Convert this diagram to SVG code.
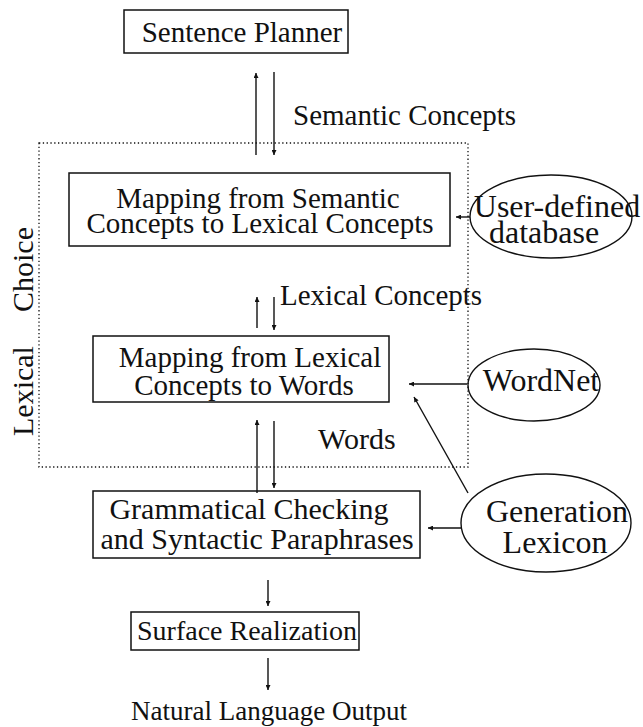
<svg xmlns="http://www.w3.org/2000/svg" width="643" height="727" viewBox="0 0 643 727">
<style>
text{font-family:"Liberation Serif","Times New Roman",serif;font-size:30px;fill:#111}
.box{fill:none;stroke:#111;stroke-width:1.5}
.ell{fill:none;stroke:#111;stroke-width:1.4}
.ln{fill:none;stroke:#111;stroke-width:1.4}
.dot{fill:none;stroke:#111;stroke-width:1.3;stroke-dasharray:1.3 2.5}
.m{text-anchor:middle}
.s29{font-size:29px}
.e{font-size:32px}
</style>
<defs>
<marker id="ah" viewBox="0 0 10 10" refX="10" refY="5" markerWidth="9" markerHeight="5" markerUnits="userSpaceOnUse" orient="auto">
<path d="M0,0 L10,5 L0,10 z" fill="#111"/>
</marker>
</defs>
<rect class="dot" x="39" y="143" width="429" height="324"/>
<text transform="translate(33,312) rotate(-90)">Choice</text>
<text transform="translate(33,436) rotate(-90)">Lexical</text>
<g id="sentence-planner">
<rect class="box" x="124" y="10" width="224" height="43"/>
<text class="m s29" x="242" y="42">Sentence Planner</text>
</g>
<g id="map-semantic">
<rect class="box" x="69" y="173" width="381" height="73"/>
<text class="m s29" x="258" y="208">Mapping from Semantic</text>
<text class="m s29" x="260" y="233">Concepts to Lexical Concepts</text>
</g>
<g id="map-lexical">
<rect class="box" x="93" y="336" width="296" height="66"/>
<text class="m s29" x="250" y="367">Mapping from Lexical</text>
<text class="m s29" x="244" y="395">Concepts to Words</text>
</g>
<g id="grammatical">
<rect class="box" x="93" y="491" width="327" height="67"/>
<text class="m" x="249" y="519">Grammatical Checking</text>
<text class="m" x="257" y="549">and Syntactic Paraphrases</text>
</g>
<g id="surface">
<rect class="box" x="131" y="612" width="228" height="38"/>
<text class="m" x="247" y="640" style="font-size:28px">Surface Realization</text>
</g>
<g id="user-db">
<ellipse class="ell" cx="551" cy="216.5" rx="81" ry="41.5"/>
<text class="m e" x="557" y="217">User-defined</text>
<text class="m e" x="544" y="243">database</text>
</g>
<g id="wordnet">
<ellipse class="ell" cx="534" cy="385" rx="66" ry="36"/>
<text class="m e" x="541" y="391">WordNet</text>
</g>
<g id="gen-lexicon">
<ellipse class="ell" cx="546" cy="523" rx="85" ry="49"/>
<text class="m e" x="557" y="522">Generation</text>
<text class="m e" x="555" y="553">Lexicon</text>
</g>
<text class="s29" x="293" y="125">Semantic Concepts</text>
<text class="s29" x="280" y="305">Lexical Concepts</text>
<text x="318" y="449">Words</text>
<text x="131" y="720" style="font-size:27px">Natural Language Output</text>
<g id="connectors">
<line class="ln" x1="256" y1="155" x2="256" y2="73" marker-end="url(#ah)"/>
<line class="ln" x1="274" y1="72" x2="274" y2="155" marker-end="url(#ah)"/>
<line class="ln" x1="257" y1="328" x2="257" y2="297" marker-end="url(#ah)"/>
<line class="ln" x1="274" y1="297" x2="274" y2="330" marker-end="url(#ah)"/>
<line class="ln" x1="257" y1="493" x2="257" y2="420" marker-end="url(#ah)"/>
<line class="ln" x1="274" y1="421" x2="274" y2="488" marker-end="url(#ah)"/>
<line class="ln" x1="268" y1="580" x2="268" y2="606" marker-end="url(#ah)"/>
<line class="ln" x1="268" y1="658" x2="268" y2="690" marker-end="url(#ah)"/>
<line class="ln" x1="470" y1="217" x2="456" y2="217" marker-end="url(#ah)"/>
<line class="ln" x1="467" y1="384" x2="409" y2="384" marker-end="url(#ah)"/>
<line class="ln" x1="468" y1="493" x2="414" y2="397" marker-end="url(#ah)"/>
<line class="ln" x1="461" y1="528" x2="428" y2="528" marker-end="url(#ah)"/>
</g>
</svg>
